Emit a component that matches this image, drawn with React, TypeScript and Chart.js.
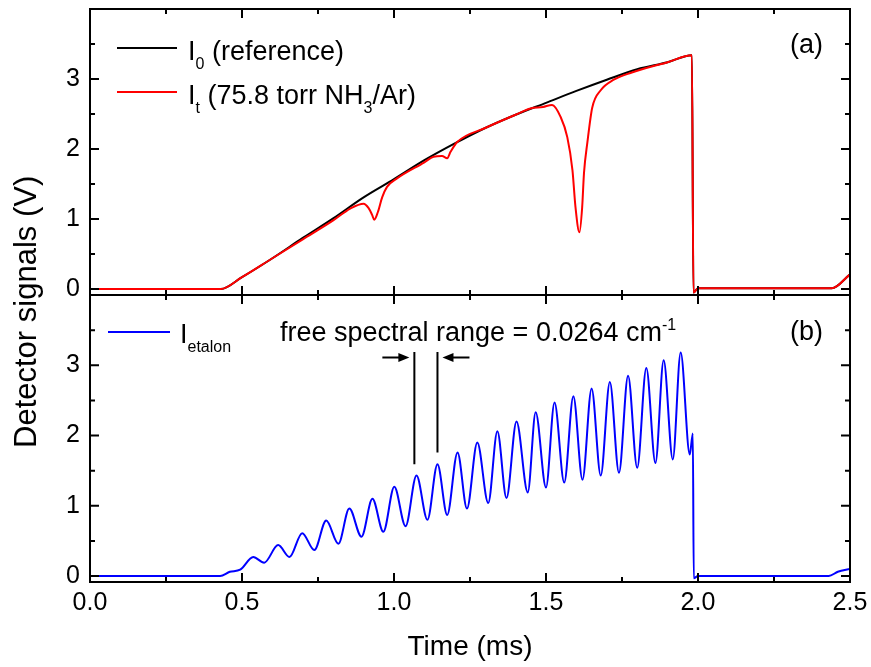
import React, { useEffect, useRef } from "react";
import { Chart, registerables } from "chart.js";

Chart.register(...registerables);

const FONT = "'Liberation Sans', Arial, Helvetica, sans-serif";

// ---------- Panel (a): reference and transmitted signals ----------
const timeRef = [0, 0.43, 0.5, 0.6, 0.7, 0.8, 0.9, 1.0, 1.1, 1.2, 1.3, 1.4, 1.5, 1.6, 1.7, 1.8, 1.9, 1.98, 1.985, 2.0, 2.44, 2.5];
const i0Ref = [0, 0, 0.17, 0.44, 0.73, 1.01, 1.31, 1.57, 1.84, 2.08, 2.3, 2.49, 2.66, 2.83, 2.99, 3.14, 3.24, 3.34, -0.05, 0.01, 0.01, 0.21];

const timeTrans = [0, 0.43, 0.5, 0.6, 0.7, 0.8, 0.856, 0.9, 0.916, 0.928, 0.935, 0.947, 0.961, 0.977, 1.01, 1.1, 1.13, 1.158, 1.175, 1.186, 1.208, 1.3, 1.4, 1.449, 1.49, 1.52, 1.548, 1.57, 1.587, 1.597, 1.61, 1.619, 1.625, 1.636, 1.652, 1.68, 1.723, 1.78, 1.9, 1.98, 1.985, 2.0, 2.44, 2.5];
const itTrans = [0, 0, 0.17, 0.44, 0.71, 0.98, 1.15, 1.22, 1.16, 1.06, 0.99, 1.1, 1.31, 1.46, 1.58, 1.81, 1.89, 1.9, 1.87, 1.96, 2.1, 2.3, 2.49, 2.58, 2.6, 2.63, 2.46, 2.17, 1.7, 1.17, 0.81, 1.17, 1.66, 2.09, 2.59, 2.84, 2.99, 3.09, 3.24, 3.34, -0.05, 0.01, 0.01, 0.21];

// ---------- Panel (b): etalon signal ----------
const timeEtalon = [0, 0.428, 0.46, 0.494, 0.537, 0.573, 0.619, 0.656, 0.698, 0.738, 0.777, 0.817, 0.853, 0.893, 0.929, 0.965, 1.001, 1.038, 1.074, 1.11, 1.143, 1.175, 1.209, 1.24, 1.274, 1.31, 1.34, 1.37, 1.403, 1.44, 1.466, 1.5, 1.528, 1.56, 1.59, 1.62, 1.65, 1.68, 1.71, 1.74, 1.77, 1.8, 1.83, 1.86, 1.887, 1.917, 1.943, 1.973, 1.983, 1.986, 2.0, 2.43, 2.46, 2.5];
const etalonSig = [0, 0, 0.06, 0.09, 0.27, 0.19, 0.44, 0.27, 0.61, 0.37, 0.79, 0.46, 0.96, 0.56, 1.1, 0.63, 1.27, 0.71, 1.43, 0.8, 1.59, 0.87, 1.76, 0.96, 1.9, 1.04, 2.06, 1.11, 2.2, 1.19, 2.33, 1.26, 2.47, 1.33, 2.56, 1.37, 2.67, 1.43, 2.76, 1.47, 2.85, 1.54, 2.96, 1.61, 3.07, 1.66, 3.18, 1.73, 2.03, -0.03, 0.0, 0.0, 0.06, 0.1];

// ---------- Axes ----------
const xMin = 0;
const xMax = 2.5;
const yMin = -0.085;
const yMax = 4.0;
const xMajorTicks = [0, 0.5, 1.0, 1.5, 2.0, 2.5];
const xMinorTicks = [0.25, 0.75, 1.25, 1.75, 2.25];
const yMajorTicks = [0, 1, 2, 3];
const yMinorTicks = [0.5, 1.5, 2.5, 3.5];

// ---------- Free spectral range marker ----------
const fsrMarkTimes = [1.067, 1.143];
const fsrMarkTop = 3.19;
const fsrMarkBottoms = [1.59, 1.76];
const fsrArrowLevel = 3.11;

type Seg = { t: string; sub?: boolean; sup?: boolean };

function drawRich(ctx: CanvasRenderingContext2D, x: number, y: number, segs: Seg[], size: number, subSize: number) {
  let cx = x;
  ctx.textAlign = "left";
  ctx.textBaseline = "alphabetic";
  for (const s of segs) {
    const sz = s.sub || s.sup ? subSize : size;
    ctx.font = `${sz}px ${FONT}`;
    const dy = s.sub ? size * 0.33 : s.sup ? -size * 0.42 : 0;
    ctx.fillText(s.t, cx, y + dy);
    cx += ctx.measureText(s.t).width;
  }
  return cx;
}

function framePlugin(id: string, extra: (chart: any) => void) {
  return {
    id,
    afterDatasetsDraw(chart: any) {
      const { ctx, chartArea: a } = chart;
      const xs = chart.scales.x;
      const ys = chart.scales.y;
      ctx.save();
      ctx.strokeStyle = "#000";
      ctx.lineWidth = 2;
      ctx.beginPath();
      const addX = (vals: number[], len: number) =>
        vals.forEach((v) => {
          const p = xs.getPixelForValue(v);
          ctx.moveTo(p, a.bottom);
          ctx.lineTo(p, a.bottom - len);
          ctx.moveTo(p, a.top);
          ctx.lineTo(p, a.top + len);
        });
      const addY = (vals: number[], len: number) =>
        vals.forEach((v) => {
          const p = ys.getPixelForValue(v);
          ctx.moveTo(a.left, p);
          ctx.lineTo(a.left + len, p);
          ctx.moveTo(a.right, p);
          ctx.lineTo(a.right - len, p);
        });
      addX(xMajorTicks, 9);
      addX(xMinorTicks, 5);
      addY(yMajorTicks, 9);
      addY(yMinorTicks, 5);
      ctx.stroke();
      ctx.strokeRect(a.left, a.top, a.right - a.left, a.bottom - a.top);
      ctx.restore();
      ctx.save();
      ctx.fillStyle = "#000";
      extra(chart);
      ctx.restore();
    },
  };
}

function legendLine(ctx: CanvasRenderingContext2D, x0: number, x1: number, y: number, color: string) {
  ctx.strokeStyle = color;
  ctx.lineWidth = 2;
  ctx.beginPath();
  ctx.moveTo(x0, y);
  ctx.lineTo(x1, y);
  ctx.stroke();
}

const pluginA = framePlugin("decorA", (chart) => {
  const ctx: CanvasRenderingContext2D = chart.ctx;
  legendLine(ctx, 117, 177, 48, "#000000");
  legendLine(ctx, 117, 177, 92, "#ff0000");
  ctx.fillStyle = "#000";
  drawRich(ctx, 188, 60, [{ t: "I" }, { t: "0", sub: true }, { t: " (reference)" }], 27, 16);
  drawRich(ctx, 188, 104, [{ t: "I" }, { t: "t", sub: true }, { t: " (75.8 torr NH" }, { t: "3", sub: true }, { t: "/Ar)" }], 27, 16);
  ctx.font = `27px ${FONT}`;
  ctx.textAlign = "right";
  ctx.textBaseline = "middle";
  ctx.fillText("(a)", 823, 46);
});

const pluginB = framePlugin("decorB", (chart) => {
  const ctx: CanvasRenderingContext2D = chart.ctx;
  const xs = chart.scales.x;
  const ys = chart.scales.y;
  legendLine(ctx, 108, 170, 332, "#0000ff");
  ctx.fillStyle = "#000";
  drawRich(ctx, 180, 343, [{ t: "I" }, { t: "etalon", sub: true }], 27, 16);
  drawRich(ctx, 280, 341, [{ t: "free spectral range = 0.0264 cm" }, { t: "-1", sup: true }], 27, 16);
  ctx.font = `27px ${FONT}`;
  ctx.textAlign = "right";
  ctx.textBaseline = "middle";
  ctx.fillText("(b)", 823, 333);

  // free spectral range marker
  const top = ys.getPixelForValue(fsrMarkTop);
  const ay = ys.getPixelForValue(fsrArrowLevel);
  const p1 = xs.getPixelForValue(fsrMarkTimes[0]);
  const p2 = xs.getPixelForValue(fsrMarkTimes[1]);
  ctx.strokeStyle = "#000";
  ctx.lineWidth = 2;
  ctx.beginPath();
  ctx.moveTo(p1, top);
  ctx.lineTo(p1, ys.getPixelForValue(fsrMarkBottoms[0]));
  ctx.moveTo(p2, top);
  ctx.lineTo(p2, ys.getPixelForValue(fsrMarkBottoms[1]));
  ctx.moveTo(p1 - 32, ay);
  ctx.lineTo(p1 - 14, ay);
  ctx.moveTo(p2 + 32, ay);
  ctx.lineTo(p2 + 14, ay);
  ctx.stroke();
  ctx.beginPath();
  ctx.moveTo(p1 - 5, ay);
  ctx.lineTo(p1 - 16, ay - 4.5);
  ctx.lineTo(p1 - 16, ay + 4.5);
  ctx.closePath();
  ctx.moveTo(p2 + 5, ay);
  ctx.lineTo(p2 + 16, ay - 4.5);
  ctx.lineTo(p2 + 16, ay + 4.5);
  ctx.closePath();
  ctx.fill();

  // shared y-axis title
  ctx.save();
  ctx.translate(27, 448);
  ctx.rotate(-Math.PI / 2);
  ctx.font = `31px ${FONT}`;
  ctx.textAlign = "left";
  ctx.textBaseline = "middle";
  ctx.fillText("Detector signals (V)", 0, 0);
  ctx.restore();
});

const xy = (xs: number[], ys: number[]) => xs.map((x, i) => ({ x, y: ys[i] }));

const yScale = (showLabels: boolean) => ({
  type: "linear" as const,
  min: yMin,
  max: yMax,
  afterBuildTicks: (s: any) => {
    s.ticks = yMajorTicks.map((v) => ({ value: v }));
  },
  afterFit: (s: any) => {
    s.width = 90;
    s.paddingTop = 0;
    s.paddingBottom = 0;
  },
  grid: { display: false, drawTicks: false },
  border: { display: false },
  ticks: {
    display: showLabels,
    font: { family: FONT, size: 25 },
    color: "#000",
    padding: 10,
    callback: (v: any) => String(v),
  },
});

export default function App() {
  const refA = useRef<HTMLCanvasElement | null>(null);
  const refB = useRef<HTMLCanvasElement | null>(null);

  useEffect(() => {
    const chartA = new Chart(refA.current as HTMLCanvasElement, {
      type: "line",
      data: {
        datasets: [
          {
            label: "It (75.8 torr NH3/Ar)",
            data: xy(timeTrans, itTrans),
            borderColor: "#ff0000",
            borderWidth: 2,
            pointRadius: 0,
            cubicInterpolationMode: "monotone",
            order: 0,
          },
          {
            label: "I0 (reference)",
            data: xy(timeRef, i0Ref),
            borderColor: "#000000",
            borderWidth: 2,
            pointRadius: 0,
            cubicInterpolationMode: "monotone",
            order: 1,
          },
        ],
      },
      options: {
        responsive: false,
        animation: false,
        events: [],
        layout: { padding: { top: 9, bottom: 372, left: 0, right: 21 } },
        plugins: { legend: { display: false }, tooltip: { enabled: false } },
        scales: {
          x: { type: "linear", min: xMin, max: xMax, display: false },
          y: yScale(true) as any,
        },
      },
      plugins: [pluginA],
    } as any);

    const chartB = new Chart(refB.current as HTMLCanvasElement, {
      type: "line",
      data: {
        datasets: [
          {
            label: "Ietalon",
            data: xy(timeEtalon, etalonSig),
            borderColor: "#0000ff",
            borderWidth: 2,
            pointRadius: 0,
            cubicInterpolationMode: "monotone",
          },
        ],
      },
      options: {
        responsive: false,
        animation: false,
        events: [],
        layout: { padding: { top: 295, bottom: 0, left: 0, right: 21 } },
        plugins: { legend: { display: false }, tooltip: { enabled: false } },
        scales: {
          x: {
            type: "linear",
            min: xMin,
            max: xMax,
            afterBuildTicks: (s: any) => {
              s.ticks = xMajorTicks.map((v) => ({ value: v }));
            },
            afterFit: (s: any) => {
              s.height = 85;
              s.paddingLeft = 0;
              s.paddingRight = 0;
            },
            grid: { display: false, drawTicks: false },
            border: { display: false },
            ticks: {
              font: { family: FONT, size: 25 },
              color: "#000",
              padding: 6,
              maxRotation: 0,
              callback: (v: any) => Number(v).toFixed(1),
            },
            title: {
              display: true,
              text: "Time (ms)",
              color: "#000",
              font: { family: FONT, size: 28 },
              padding: { top: 4, bottom: 3 },
            },
          },
          y: yScale(true) as any,
        },
      },
      plugins: [pluginB],
    } as any);

    return () => {
      chartA.destroy();
      chartB.destroy();
    };
  }, []);

  return (
    <div style={{ position: "fixed", left: 0, top: 0, width: 871, height: 667, background: "#fff" }}>
      <canvas ref={refA} width={871} height={667} style={{ position: "absolute", left: 0, top: 0, display: "block" }} />
      <canvas ref={refB} width={871} height={667} style={{ position: "absolute", left: 0, top: 0, display: "block" }} />
    </div>
  );
}
